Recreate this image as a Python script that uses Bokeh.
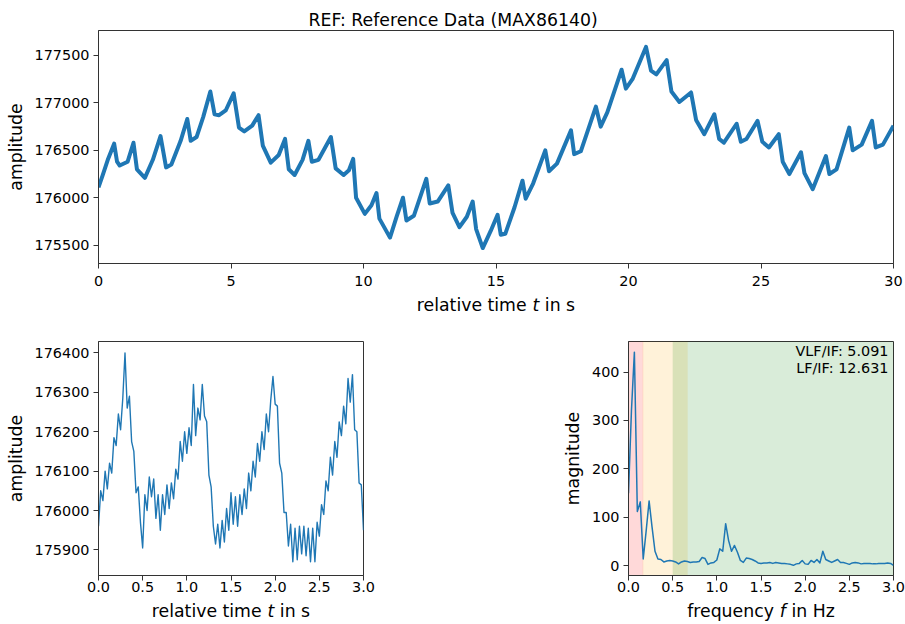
import numpy as np
from bokeh.plotting import figure
from bokeh.layouts import column, row
from bokeh.models import Range1d, FixedTicker, NumeralTickFormatter, BoxAnnotation, Label
from bokeh.core.properties import value
from bokeh.embed import file_html
from bokeh.resources import INLINE

FONT = "DejaVu Sans"
TICK_PX = 14.4
LABEL_PX = 17.3
C0 = "#1f77b4"
SPINE = "#333333"
NBSP = "\u00a0"

# ---------------------------------------------------------------- data
# Full 30 s MAX86140 recording, traced through the pulse feet and peaks
ref_t = [0.00, 0.15, 0.35, 0.59, 0.70, 0.80, 1.10, 1.32, 1.45, 1.75,
         2.05, 2.34, 2.55, 2.75, 3.10, 3.35, 3.48, 3.70, 3.95, 4.22,
         4.38, 4.55, 4.80, 5.10, 5.30, 5.50, 5.80, 6.04, 6.20, 6.50,
         6.80, 7.04, 7.18, 7.40, 7.70, 7.92, 8.05, 8.30, 8.77, 8.95,
         9.25, 9.45, 9.61, 9.72, 10.05, 10.30, 10.49, 10.60, 11.00, 11.25,
         11.49, 11.62, 11.90, 12.37, 12.50, 12.80, 13.20, 13.36, 13.62, 13.90,
         14.12, 14.25, 14.50, 14.80, 15.06, 15.18, 15.35, 15.70, 16.00, 16.12,
         16.40, 16.86, 17.00, 17.30, 17.83, 17.95, 18.20, 18.77, 18.95, 19.20,
         19.74, 19.90, 20.15, 20.66, 20.85, 21.05, 21.44, 21.62, 21.92, 22.36,
         22.55, 22.86, 23.24, 23.42, 23.60, 24.08, 24.24, 24.45, 24.87, 25.05,
         25.30, 25.67, 25.82, 26.07, 26.51, 26.64, 26.95, 27.45, 27.58, 27.85,
         28.33, 28.46, 28.80, 29.19, 29.33, 29.60, 30.00]
ref_amp = [176110, 176230, 176400, 176570, 176380, 176340, 176380, 176580, 176300, 176210,
           176400, 176650, 176320, 176350, 176600, 176830, 176600, 176640, 176850, 177120,
           176880, 176870, 176920, 177100, 176740, 176700, 176760, 176870, 176550, 176370,
           176450, 176620, 176300, 176240, 176400, 176600, 176380, 176400, 176640, 176310,
           176240, 176290, 176410, 176000, 175830, 175920, 176050, 175780, 175580, 175800,
           176000, 175760, 175810, 176200, 175940, 175960, 176130, 175840, 175690, 175800,
           175960, 175670, 175470, 175650, 175820, 175610, 175620, 175900, 176180, 175990,
           176150, 176500, 176280, 176360, 176710, 176460, 176490, 176960, 176750, 176900,
           177350, 177150, 177250, 177590, 177340, 177300, 177450, 177120, 177010, 177110,
           176820, 176670, 176880, 176620, 176580, 176780, 176590, 176620, 176810, 176590,
           176530, 176670, 176380, 176250, 176480, 176260, 176090, 176440, 176250, 176300,
           176740, 176500, 176560, 176810, 176530, 176560, 176760]

# 3 s excerpt, one reading every 25 ms
seg_amp = [175960, 176050, 176025, 176100, 176055, 176120, 176095, 176185, 176165, 176245,
           176205, 176285, 176400, 176260, 176290, 176175, 176150, 176045, 176060, 175970,
           175905, 176040, 176000, 176085, 176035, 176080, 175980, 176040, 175950, 176040,
           175990, 176065, 176005, 176070, 176030, 176105, 176080, 176175, 176125, 176200,
           176145, 176210, 176165, 176320, 176190, 176260, 176230, 176320, 176240, 176225,
           176090, 176060, 175960, 175915, 175965, 175905, 175975, 175920, 176005, 175950,
           176045, 175965, 176035, 175960, 176040, 175990, 176055, 176005, 176095, 176050,
           176125, 176085, 176170, 176125, 176200, 176155, 176245, 176200, 176280, 176340,
           176270, 176265, 176120, 176095, 175995, 175995, 175910, 175965, 175870, 175955,
           175875, 175960, 175890, 175960, 175885, 175955, 175870, 175955, 175870, 175970,
           175935, 176015, 175990, 176075, 176050, 176135, 176090, 176175, 176135, 176225,
           176190, 176265, 176220, 176335, 176275, 176345, 176205, 176200, 176070, 176065,
           175950]
seg_t = np.linspace(0.0, 3.0, len(seg_amp))

# Magnitude spectrum, 1/30 Hz bins from 0 to 3 Hz
spec_mag = [150, 320, 441, 112, 132, 14, 72, 134, 80, 30,
            14, 13, 8, 10, 11, 10, 8, 4, 8, 10,
            9, 7, 8, 8, 9, 17, 15, 3, 6, 7,
            12, 35, 30, 87, 52, 30, 42, 28, 11, 7,
            16, 15, 13, 10, 6, 5, 6, 6, 7, 5,
            7, 6, 5, 5, 4, 3, 1, 4, 5, 11,
            4, 3, 11, 7, 13, 6, 30, 13, 10, 7,
            10, 13, 7, 7, 5, 3, 6, 7, 6, 4,
            5, 5, 5, 4, 4, 5, 5, 5, 6, 5,
            1]
spec_f = np.linspace(0.0, 3.0, len(spec_mag))

# frequency bands: name, lower edge, upper edge (Hz), colour
bands = [("VLF", 0.0, 0.167, "red"),
         ("LF", 0.16, 0.67, "orange"),
         ("IF", 0.5, 3.0, "green")]
ratios = ["VLF/IF: 5.091", "LF/IF: 12.631"]

title_text = "REF: Reference Data (MAX86140)"
# axis titles as (text, font style); non-breaking spaces keep the gaps in SVG
time_label = [("relative" + NBSP + "time" + NBSP, "normal"), ("t", "italic"),
              (NBSP + "in" + NBSP + "s", "normal")]
freq_label = [("frequency" + NBSP, "normal"), ("f", "italic"),
              (NBSP + "in" + NBSP + "Hz", "normal")]
top_xticks = [0, 5, 10, 15, 20, 25, 30]
top_yticks = [175500, 176000, 176500, 177000, 177500]
seg_xticks = [0.0, 0.5, 1.0, 1.5, 2.0, 2.5, 3.0]
seg_yticks = [175900, 176000, 176100, 176200, 176300, 176400]
spec_yticks = [0, 100, 200, 300, 400]

# page geometry (px)
PAGE_W = 905
LEFT, RIGHT = 98, 12

# ---------------------------------------------------------------- helpers
# DejaVu Sans advance widths (em) for the glyphs used in the x labels
ADV = {" ": 0.318, NBSP: 0.318, "a": 0.613, "c": 0.550, "e": 0.615, "f": 0.352,
       "i": 0.278, "l": 0.278, "m": 0.974, "n": 0.634, "q": 0.635, "r": 0.411,
       "s": 0.521, "t": 0.392, "u": 0.634, "v": 0.592, "y": 0.592, "z": 0.525,
       "H": 0.752}


def text_width(s, size):
    return sum(ADV.get(ch, 0.6) for ch in s) * size


def style(p, xticks, yticks, xfmt, yfmt, x_standoff):
    p.grid.visible = False
    p.background_fill_color = "white"
    p.border_fill_color = "white"
    p.outline_line_color = SPINE
    p.outline_line_width = 1
    for ax in (p.xaxis[0], p.yaxis[0]):
        ax.axis_line_color = SPINE
        ax.major_tick_line_color = SPINE
        ax.major_tick_out = 5
        ax.major_tick_in = 0
        ax.minor_tick_line_color = None
        ax.major_label_text_font = FONT
        ax.major_label_text_font_size = f"{TICK_PX}px"
        ax.major_label_text_color = "black"
        ax.major_label_standoff = 4
        ax.axis_label_text_font = FONT
        ax.axis_label_text_font_size = f"{LABEL_PX}px"
        ax.axis_label_text_font_style = "normal"
        ax.axis_label_text_color = "black"
        ax.axis_label_standoff = 6
    p.xaxis.major_label_standoff = x_standoff
    p.xaxis.ticker = FixedTicker(ticks=xticks)
    p.yaxis.ticker = FixedTicker(ticks=yticks)
    p.xaxis.formatter = NumeralTickFormatter(format=xfmt)
    p.yaxis.formatter = NumeralTickFormatter(format=yfmt)


def label_strip(height, labels):
    """Blank strip in page-pixel coordinates carrying x-axis titles
    with an italic symbol.  labels: list of (centre_x, baseline_y, parts)"""
    s = figure(width=PAGE_W, height=height, output_backend="svg", toolbar_location=None,
               x_range=Range1d(LEFT, PAGE_W - RIGHT), y_range=Range1d(height, 0),
               x_axis_type=None, y_axis_type=None,
               min_border_left=LEFT, min_border_right=RIGHT, min_border_top=0,
               min_border_bottom=0)
    s.outline_line_color = None
    s.background_fill_color = "white"
    s.border_fill_color = "white"
    for cx, by, parts in labels:
        x = cx - sum(text_width(t, LABEL_PX) for t, _ in parts) / 2
        for t, st in parts:
            s.text(x=[x], y=[by], text=[t], text_font=value(FONT),
                   text_font_size=value(f"{LABEL_PX}px"),
                   text_font_style=value(st), text_color="black",
                   text_align="left", text_baseline="middle")
            x += text_width(t, LABEL_PX)
    return s


# ---------------------------------------------------------------- top: full record
p1 = figure(width=PAGE_W, height=292, output_backend="svg", toolbar_location=None,
            x_range=Range1d(0, 30), y_range=Range1d(175307, 177763),
            min_border_left=LEFT, min_border_right=RIGHT, min_border_top=30,
            min_border_bottom=29, title=title_text)
p1.title.text_font = FONT
p1.title.text_font_size = f"{LABEL_PX}px"
p1.title.text_font_style = "normal"
p1.title.text_color = "black"
p1.title.align = "left"
p1.title.offset = 210
p1.title.standoff = 1
style(p1, top_xticks, top_yticks, "0", "0", 7)
p1.yaxis.axis_label = "amplitude"
p1.line(ref_t, ref_amp, line_color=C0, line_width=4, line_join="round")

strip1 = label_strip(30, [(495.5, 12, time_label)])

# ---------------------------------------------------------------- bottom left: 3 s excerpt
p2 = figure(width=380, height=275, output_backend="svg", toolbar_location=None,
            x_range=Range1d(0, 3), y_range=Range1d(175835, 176429),
            min_border_left=LEFT, min_border_right=17, min_border_top=19,
            min_border_bottom=22)
style(p2, seg_xticks, seg_yticks, "0.0", "0", 1)
p2.yaxis.axis_label = "amplitude"
p2.line(seg_t, seg_amp, line_color=C0, line_width=1.4, line_join="round")

# ---------------------------------------------------------------- bottom right: spectrum
p3 = figure(width=525, height=275, output_backend="svg", toolbar_location=None,
            x_range=Range1d(0, 3), y_range=Range1d(-20, 463),
            min_border_left=248, min_border_right=RIGHT, min_border_top=19,
            min_border_bottom=22)
style(p3, seg_xticks, spec_yticks, "0.0", "0", 1)
p3.yaxis.axis_label = "magnitude"
for name, lo, hi, col in bands:
    p3.add_layout(BoxAnnotation(left=lo, right=hi, fill_color=col, fill_alpha=0.15,
                                line_color=None, level="underlay"))
p3.line(spec_f, spec_mag, line_color=C0, line_width=1.5, line_join="round")
per_px = 483 / 234
for i, txt in enumerate(ratios):
    p3.add_layout(Label(x=3.0 - 5 * 3.0 / 265, y=463 - (1 + 17 * i) * per_px, text=txt,
                        text_font=FONT, text_font_size=f"{TICK_PX}px",
                        text_color="black", text_align="right", text_baseline="top"))

strip2 = label_strip(27, [(230.5, 13, time_label), (760.5, 13, freq_label)])

layout = column(p1, strip1, row(p2, p3), strip2)
open("out.html", "w").write(file_html(layout, INLINE))
